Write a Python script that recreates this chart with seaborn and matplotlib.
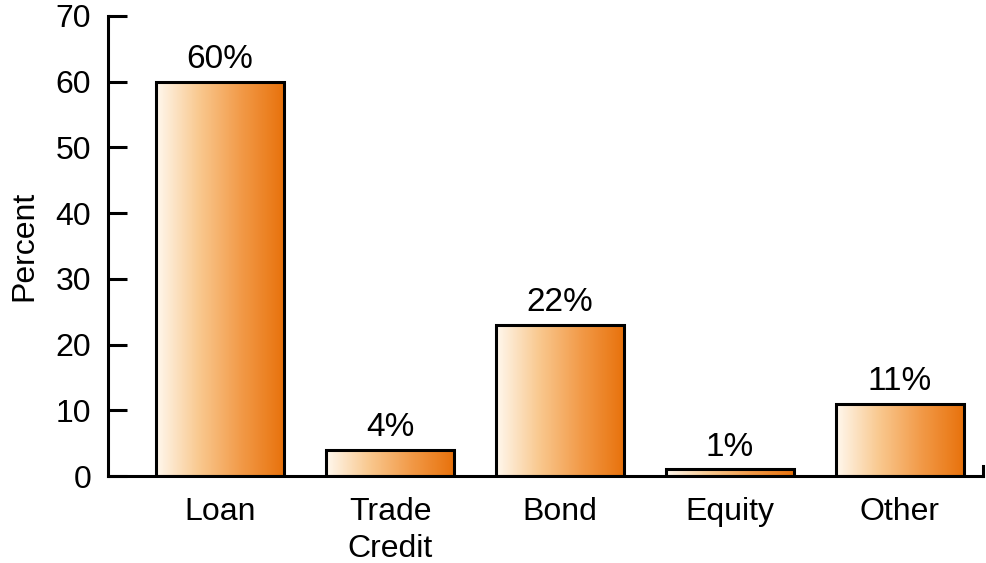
import numpy as np
import pandas as pd
import matplotlib
matplotlib.use("Agg")
import matplotlib.pyplot as plt
import seaborn as sns
from matplotlib.colors import LinearSegmentedColormap

# data
categories = ["Loan", "Trade\nCredit", "Bond", "Equity", "Other"]
values = [60, 4, 23, 1, 11]
value_labels = ["60%", "4%", "22%", "1%", "11%"]
y_ticks = [0, 10, 20, 30, 40, 50, 60, 70]

sns.set_style("white", {"text.color": "black", "axes.labelcolor": "black",
                        "xtick.color": "black", "ytick.color": "black",
                        "axes.edgecolor": "black"})
plt.rcParams["font.family"] = ["Liberation Sans", "DejaVu Sans"]

df = pd.DataFrame({"category": categories, "value": values})

fig = plt.figure(figsize=(9.87, 5.63), dpi=100)
ax = fig.add_axes([0.1094, 0.1545, 0.8866, 0.8171])

sns.barplot(data=df, x="category", y="value", ax=ax, width=0.75,
            color="white", edgecolor="black", linewidth=2.2, saturation=1)

# horizontal gradient fill inside each bar
grad_cmap = LinearSegmentedColormap.from_list(
    "orange_grad", ["#fff8ee", "#f9c990", "#f29a48", "#e8720c"])
gradient = np.linspace(0, 1, 256).reshape(1, -1)
for patch in ax.patches:
    x0, y0 = patch.get_x(), patch.get_y()
    w, h = patch.get_width(), patch.get_height()
    im = ax.imshow(gradient, cmap=grad_cmap, aspect="auto",
                   extent=[x0, x0 + w, y0, y0 + h], zorder=patch.get_zorder() - 0.1,
                   interpolation="bicubic")
    im.set_clip_path(patch)
    patch.set_facecolor("none")

# value labels above the bars
for i, (v, lab) in enumerate(zip(values, value_labels)):
    ax.text(i, v + 1.0, lab, ha="center", va="bottom", fontsize=24, color="black")

ax.set_xlim(-0.66, 4.49)
ax.set_ylim(0, 70)
ax.set_yticks(y_ticks)
ax.set_xlabel("")
ax.set_ylabel("Percent", fontsize=23, labelpad=12)

ax.tick_params(axis="y", direction="in", length=14, width=2.2, labelsize=23, pad=12, left=True)
ax.tick_params(axis="x", length=0, labelsize=23, pad=15)
for t in ax.get_xticklabels():
    t.set_linespacing(1.3)

ax.spines["top"].set_visible(False)
ax.spines["left"].set_linewidth(2.2)
ax.spines["bottom"].set_linewidth(2.2)
ax.spines["right"].set_linewidth(2.2)
ax.spines["right"].set_bounds(0, 1.6)

fig.savefig("out.png", dpi=100)
